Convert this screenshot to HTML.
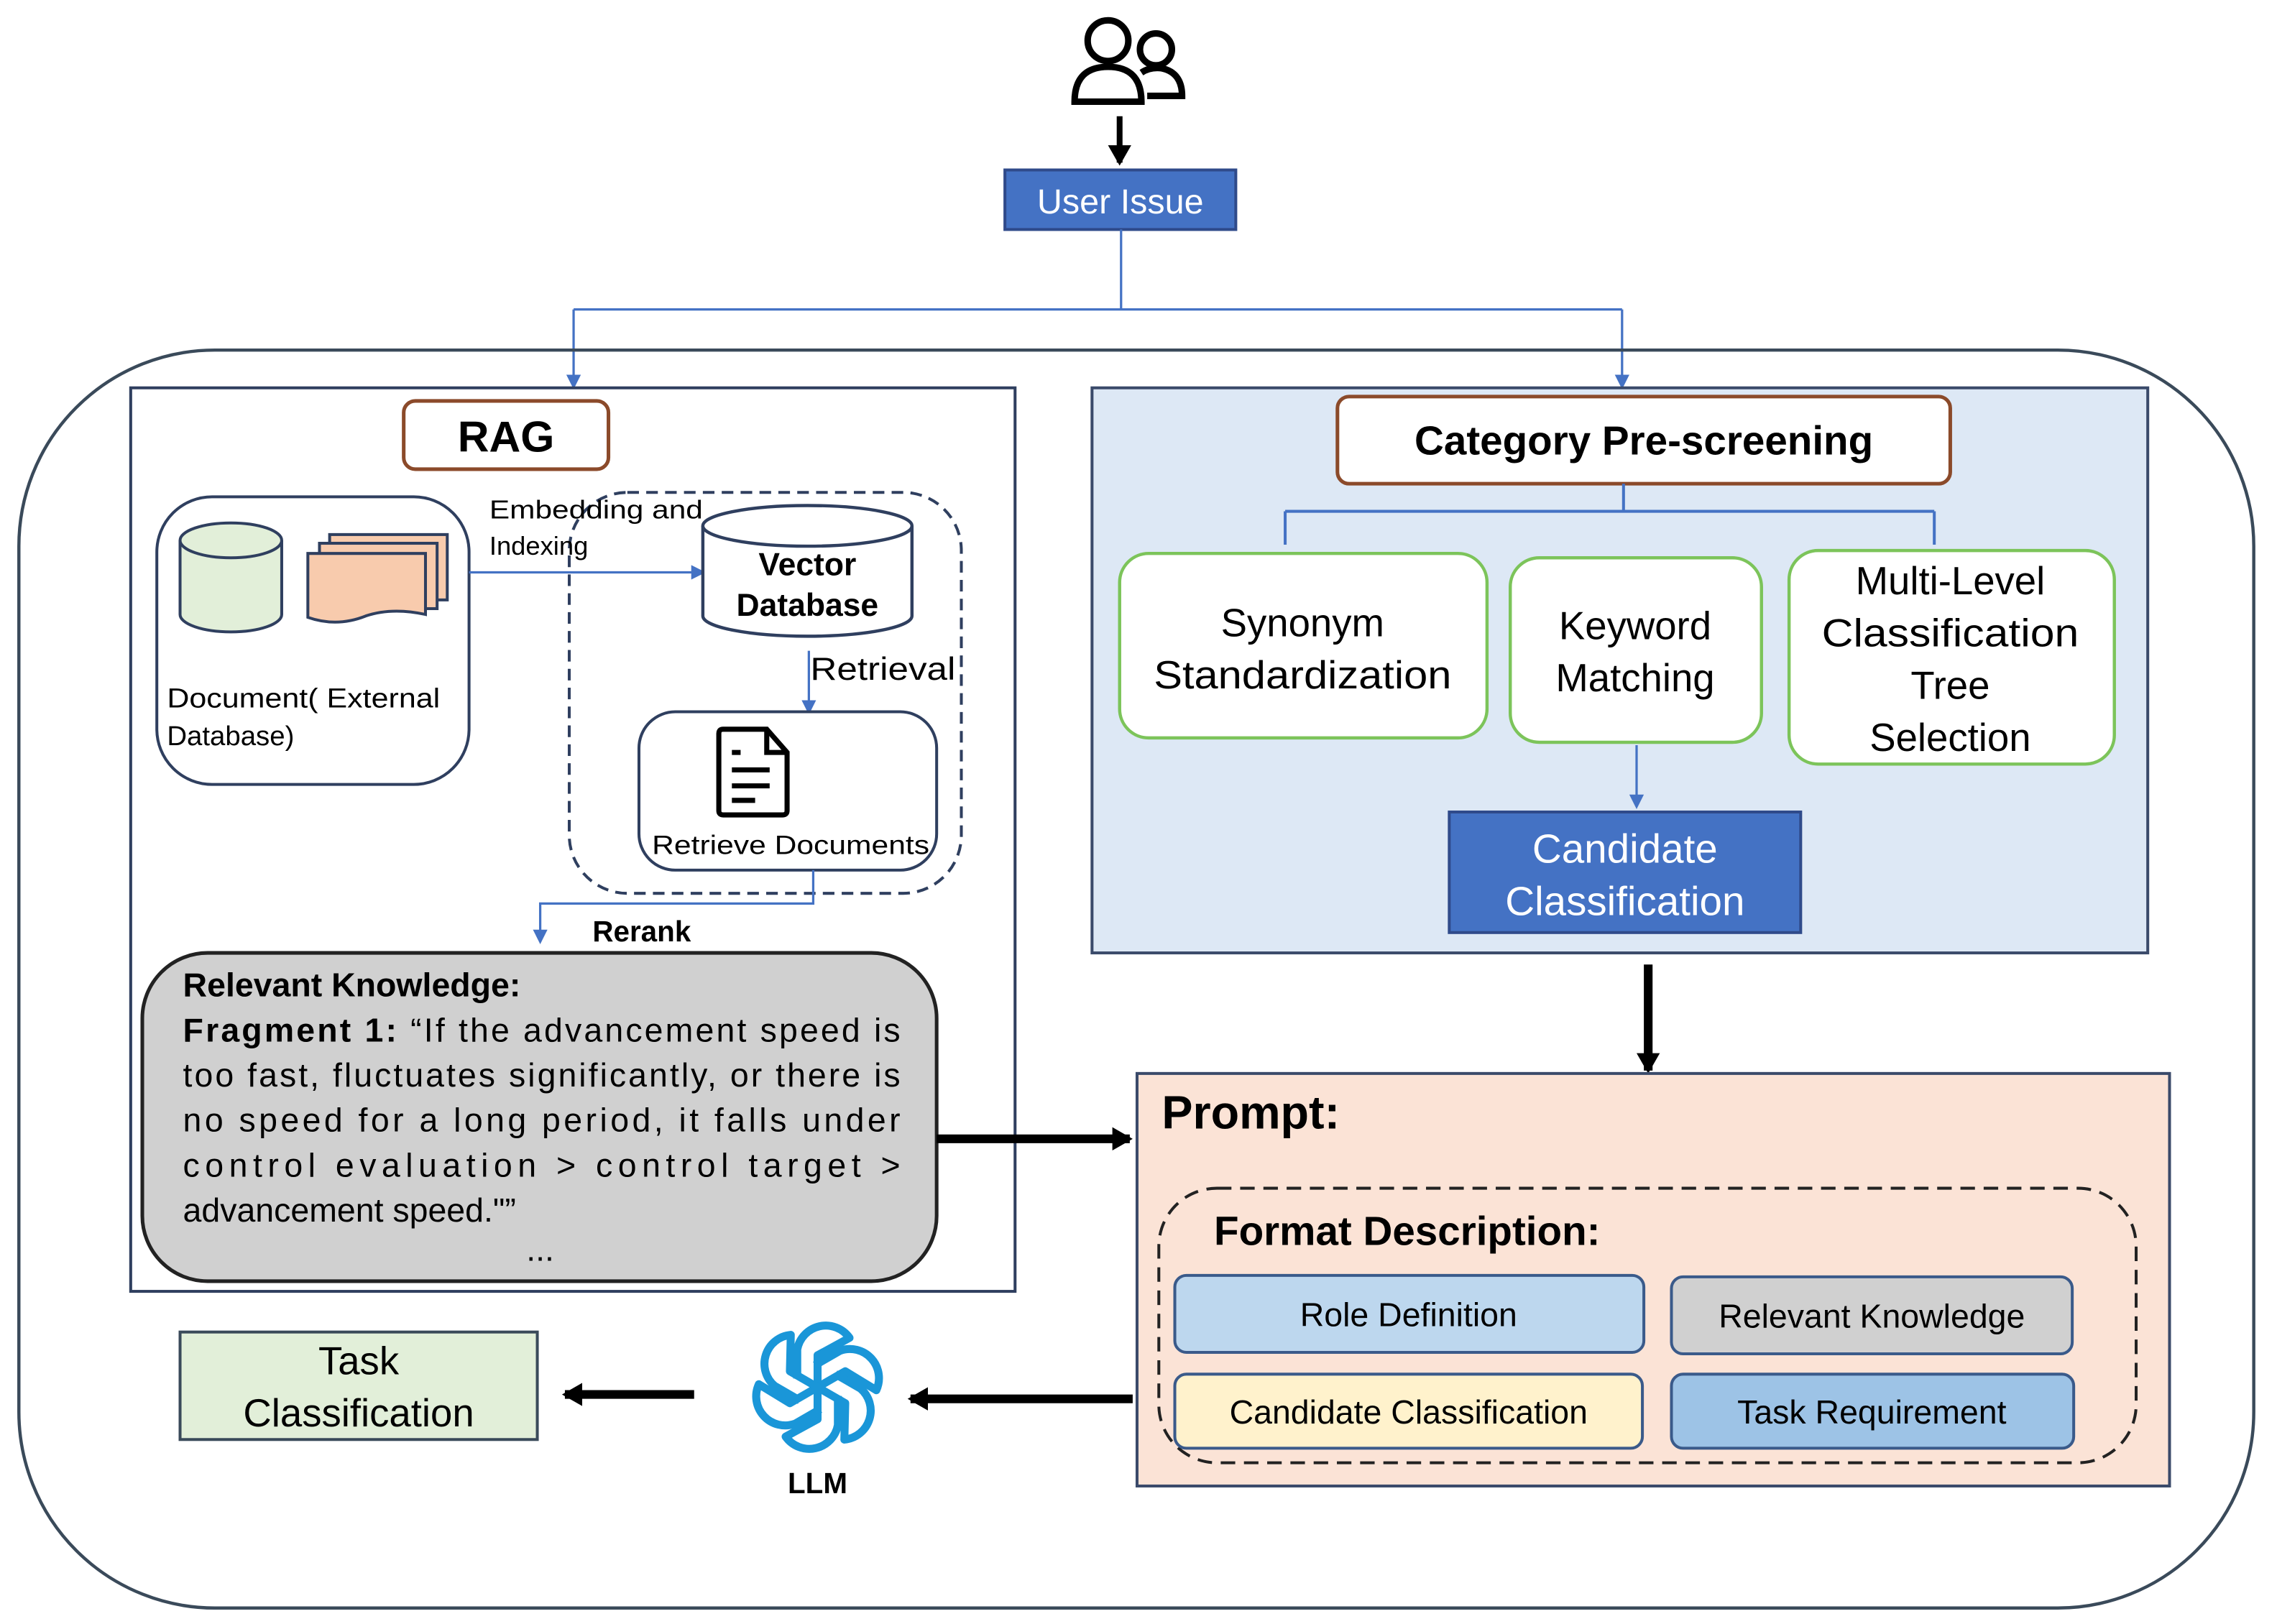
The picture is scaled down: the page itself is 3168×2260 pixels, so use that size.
<!DOCTYPE html>
<html><head><meta charset="utf-8"><style>
html,body{margin:0;padding:0;background:#fff}
svg{display:block}
text{font-family:"Liberation Sans",Arial,sans-serif}
</style></head><body>
<svg width="3168" height="2260" viewBox="0 0 1568 1118" preserveAspectRatio="none" xmlns="http://www.w3.org/2000/svg">
<defs>
<marker id="ab" markerWidth="10" markerHeight="10" refX="8" refY="5" orient="auto" markerUnits="userSpaceOnUse"><path d="M0,0 L10,5 L0,10 z" fill="#4472c4"/></marker>
<marker id="ak" markerWidth="16" markerHeight="16" refX="12" refY="8" orient="auto" markerUnits="userSpaceOnUse"><path d="M0,0 L14,8 L0,16 z" fill="#000"/></marker>
</defs>
<rect width="1568" height="1118" fill="#fff"/>
<g fill="none" stroke="#000" stroke-width="4.5">
<circle cx="763" cy="28" r="14"/>
<path d="M740,70 Q740,46 763,46 Q786,46 786,70 Z"/>
<circle cx="796" cy="34" r="11"/>
<path d="M786,50 Q792,46 800,47 Q814,50 814,66 L790,66"/>
</g>
<line x1="771" y1="80" x2="771" y2="112" stroke="#000" stroke-width="4" marker-end="url(#ak)"/>
<rect x="692" y="117" width="159" height="41" fill="#4472c4" stroke="#2f4a8a" stroke-width="2"/>
<text x="771.5" y="147" font-size="24" fill="#fff" text-anchor="middle">User Issue</text>
<g stroke="#4472c4" stroke-width="1.6" fill="none">
<path d="M772,158 V213 M395,213 H1117"/>
<line x1="395" y1="213" x2="395" y2="266" marker-end="url(#ab)"/>
<line x1="1117" y1="213" x2="1117" y2="266" marker-end="url(#ab)"/>
</g>
<rect x="13" y="241" width="1539" height="866" rx="135" fill="none" stroke="#3a4a5a" stroke-width="2.2"/>
<rect x="90" y="267" width="609" height="622" fill="#fff" stroke="#2f3f5f" stroke-width="2"/>
<rect x="278" y="276" width="141" height="47" rx="8" fill="#fff" stroke="#8b4a2a" stroke-width="2.5"/>
<text x="348.5" y="311" font-size="30" font-weight="bold" text-anchor="middle">RAG</text>
<rect x="108" y="342" width="215" height="198" rx="38" fill="#fff" stroke="#2f3f5f" stroke-width="2"/>
<path d="M124,372 V423 A35,12 0 0 0 194,423 V372" fill="#e2efd9" stroke="#2f3f5f" stroke-width="2"/>
<ellipse cx="159" cy="372" rx="35" ry="12" fill="#e2efd9" stroke="#2f3f5f" stroke-width="2"/>
<g fill="#f8cbad" stroke="#2f3f5f" stroke-width="2">
<rect x="227" y="368" width="81" height="45"/>
<rect x="220" y="374" width="81" height="45"/>
<path d="M212,381 H293 V423 Q270,418 252,424 Q232,432 212,425 Z"/>
</g>
<text x="115" y="487" font-size="19" textLength="188" lengthAdjust="spacingAndGlyphs">Document( External</text>
<text x="115" y="513" font-size="19">Database)</text>
<rect x="392" y="339" width="270" height="276" rx="40" fill="none" stroke="#2f3f5f" stroke-width="2" stroke-dasharray="8,5"/>
<text x="337" y="357" font-size="18" textLength="147" lengthAdjust="spacingAndGlyphs">Embedding and</text>
<text x="337" y="382" font-size="18">Indexing</text>
<line x1="323" y1="394" x2="484" y2="394" stroke="#4472c4" stroke-width="1.6" marker-end="url(#ab)"/>
<path d="M484,362 V424 A72,14 0 0 0 628,424 V362" fill="#fff" stroke="#2f3f5f" stroke-width="2.2"/>
<ellipse cx="556" cy="362" rx="72" ry="14" fill="#fff" stroke="#2f3f5f" stroke-width="2.2"/>
<text x="556" y="396" font-size="22" font-weight="bold" text-anchor="middle">Vector</text>
<text x="556" y="424" font-size="22" font-weight="bold" text-anchor="middle">Database</text>
<line x1="557" y1="448" x2="557" y2="490" stroke="#4472c4" stroke-width="1.6" marker-end="url(#ab)"/>
<text x="558" y="468" font-size="22" textLength="100" lengthAdjust="spacingAndGlyphs">Retrieval</text>
<rect x="440" y="490" width="205" height="109" rx="25" fill="#fff" stroke="#2f3f5f" stroke-width="2"/>
<g fill="none" stroke="#000" stroke-width="3.5">
<path d="M498,502 H528 L542,518 V558 Q542,561 539,561 H498 Q495,561 495,558 V505 Q495,502 498,502 Z"/>
<path d="M528,502 V518 H542"/>
<path d="M504,518 H510 M504,530 H530 M504,541 H530 M504,551 H520"/>
</g>
<text x="449" y="588" font-size="18.5" textLength="191" lengthAdjust="spacingAndGlyphs">Retrieve Documents</text>
<path d="M560,599 V622 H372 V648" fill="none" stroke="#4472c4" stroke-width="1.6" marker-end="url(#ab)"/>
<text x="408" y="648" font-size="20" font-weight="bold">Rerank</text>
<rect x="98" y="656" width="547" height="226" rx="45" fill="#d0d0d0" stroke="#222" stroke-width="2.5"/>
<text x="126" y="686" font-size="23" font-weight="bold">Relevant Knowledge:</text>
<g font-size="23">
<text x="126" y="717" textLength="494" lengthAdjust="spacing"><tspan font-weight="bold">Fragment 1:</tspan> “If the advancement speed is</text>
<text x="126" y="748" textLength="494" lengthAdjust="spacing">too fast, fluctuates significantly, or there is</text>
<text x="126" y="779" textLength="494" lengthAdjust="spacing">no speed for a long period, it falls under</text>
<text x="126" y="810" textLength="494" lengthAdjust="spacing">control evaluation &gt; control target &gt;</text>
<text x="126" y="841">advancement speed."”</text>
<text x="372" y="868" text-anchor="middle">...</text>
</g>
<rect x="752" y="267" width="727" height="389" fill="#dde8f5" stroke="#3a4a6a" stroke-width="2"/>
<rect x="921" y="273" width="422" height="60" rx="8" fill="#fff" stroke="#8b4a2a" stroke-width="2.5"/>
<text x="1132" y="313" font-size="28" font-weight="bold" text-anchor="middle">Category Pre-screening</text>
<path d="M1118,333 V352 M885,352 H1332 M885,352 V375 M1332,352 V375" stroke="#4472c4" stroke-width="2" fill="none"/>
<g fill="#fff" stroke="#7cc45a" stroke-width="2.2">
<rect x="771" y="381" width="253" height="127" rx="20"/>
<rect x="1040" y="384" width="173" height="127" rx="20"/>
<rect x="1232" y="379" width="224" height="147" rx="20"/>
</g>
<g font-size="27" text-anchor="middle">
<text x="897" y="438">Synonym</text>
<text x="897" y="474" textLength="205" lengthAdjust="spacingAndGlyphs">Standardization</text>
<text x="1126" y="440">Keyword</text>
<text x="1126" y="476">Matching</text>
<text x="1343" y="409">Multi-Level</text>
<text x="1343" y="445" textLength="177" lengthAdjust="spacingAndGlyphs">Classification</text>
<text x="1343" y="481">Tree</text>
<text x="1343" y="517">Selection</text>
</g>
<line x1="1127" y1="513" x2="1127" y2="555" stroke="#4472c4" stroke-width="1.6" marker-end="url(#ab)"/>
<rect x="998" y="559" width="242" height="83" fill="#4472c4" stroke="#2f4a8a" stroke-width="2"/>
<text x="1119" y="594" font-size="28" fill="#fff" text-anchor="middle">Candidate</text>
<text x="1119" y="630" font-size="28" fill="#fff" text-anchor="middle">Classification</text>
<line x1="1135" y1="664" x2="1135" y2="737" stroke="#000" stroke-width="6" marker-end="url(#ak)"/>
<rect x="783" y="739" width="711" height="284" fill="#fbe3d6" stroke="#3a4a6a" stroke-width="2"/>
<text x="800" y="777" font-size="32" font-weight="bold">Prompt:</text>
<rect x="798" y="818" width="673" height="189" rx="40" fill="none" stroke="#222" stroke-width="2" stroke-dasharray="10,6"/>
<text x="836" y="857" font-size="28" font-weight="bold">Format Description:</text>
<g stroke="#3a5a8a" stroke-width="2">
<rect x="809" y="878" width="323" height="53" rx="8" fill="#bdd7ee"/>
<rect x="1151" y="879" width="276" height="53" rx="8" fill="#d0d0d0"/>
<rect x="809" y="946" width="322" height="51" rx="8" fill="#fff2cc"/>
<rect x="1151" y="946" width="277" height="51" rx="8" fill="#9dc3e6"/>
</g>
<g font-size="23" text-anchor="middle">
<text x="970" y="913">Role Definition</text>
<text x="1289" y="914">Relevant Knowledge</text>
<text x="970" y="980">Candidate Classification</text>
<text x="1289" y="980">Task Requirement</text>
</g>
<line x1="645" y1="784" x2="778" y2="784" stroke="#000" stroke-width="6" marker-end="url(#ak)"/>
<line x1="780" y1="963" x2="627" y2="963" stroke="#000" stroke-width="6" marker-end="url(#ak)"/>
<line x1="478" y1="960" x2="389" y2="960" stroke="#000" stroke-width="6" marker-end="url(#ak)"/>
<rect x="124" y="917" width="246" height="74" fill="#e2efd9" stroke="#3a4a5a" stroke-width="2"/>
<text x="247" y="946" font-size="27" text-anchor="middle">Task</text>
<text x="247" y="982" font-size="27" text-anchor="middle">Classification</text>
<g transform="translate(563,955)" fill="none" stroke="#1a96d8" stroke-width="5.5" stroke-linejoin="round">
<g id="pet"><path d="M-14,-6 V-26 A20,20 0 0 1 22,-34 L0,-22 V2"/></g>
<use href="#pet" transform="rotate(60)"/>
<use href="#pet" transform="rotate(120)"/>
<use href="#pet" transform="rotate(180)"/>
<use href="#pet" transform="rotate(240)"/>
<use href="#pet" transform="rotate(300)"/>
</g>
<text x="563" y="1028" font-size="20" font-weight="bold" text-anchor="middle">LLM</text>
</svg>
</body></html>
